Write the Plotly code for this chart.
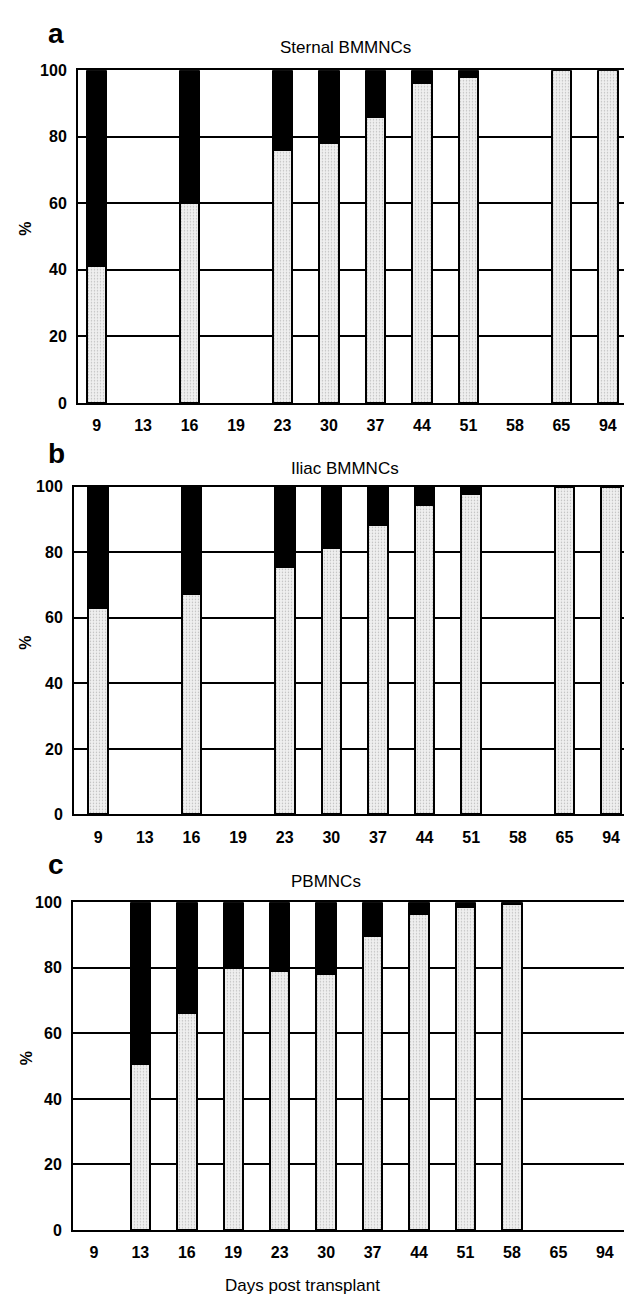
import plotly.graph_objects as go

W, H = 632, 1307

days = ["9", "13", "16", "19", "23", "30", "37", "44", "51", "58", "65", "94"]

# lower (stippled grey) fraction, %
sternal_grey = [41, None, 60, None, 76, 78, 86, 96, 98, None, 100, 100]
iliac_grey = [63, None, 67.5, None, 75.5, 81.5, 88.5, 94.5, 97.8, None, 100, 100]
pb_grey = [None, 50.5, 66, 80, 79, 78, 89.5, 96.3, 98.5, 99.4, None, None]

# upper (black) fraction, %
sternal_black = [59, None, 40, None, 24, 22, 14, 4, 2, None, 0, 0]
iliac_black = [37, None, 32.5, None, 24.5, 18.5, 11.5, 5.5, 2.2, None, 0, 0]
pb_black = [None, 49.5, 34, 20, 21, 22, 10.5, 3.7, 1.5, 0.6, None, None]

panel_titles = ["Sternal BMMNCs", "Iliac BMMNCs", "PBMNCs"]
panel_letters = ["a", "b", "c"]
y_ticks = [0, 20, 40, 60, 80, 100]

# pixel boxes of plot areas: (left, right, top, bottom)
boxes = [(70, 624, 55, 392), (66, 624, 477, 809), (65, 621, 898, 1230)]
x_ranges = [[-0.40, 11.52], [-0.52, 11.45], [-0.45, 11.52]]
title_x = [337, 337, 318]
title_y = [32, 458, 877]
letter_y = [18, 443, 860]

FONT = "Liberation Sans, Arial, Helvetica, sans-serif"

fig = go.Figure()

series = [(sternal_grey, sternal_black), (iliac_grey, iliac_black), (pb_grey, pb_black)]

for i, (grey, black) in enumerate(series):
    xa = "x" if i == 0 else f"x{i+1}"
    ya = "y" if i == 0 else f"y{i+1}"
    fig.add_trace(go.Bar(
        x=days, y=grey, xaxis=xa, yaxis=ya, width=0.42,
        marker=dict(color="#ececec", line=dict(color="black", width=2.5),
                    pattern=dict(shape=".", fgcolor="#8a8a8a", bgcolor="#efefef",
                                 size=3, solidity=0.18)),
        showlegend=False, hoverinfo="x+y",
    ))
    fig.add_trace(go.Bar(
        x=days, y=black, xaxis=xa, yaxis=ya, width=0.42,
        marker=dict(color="black", line=dict(color="black", width=2.5)),
        showlegend=False, hoverinfo="x+y",
    ))

annotations = []
for i, (l, r, t, b) in enumerate(boxes):
    sfx = "" if i == 0 else str(i + 1)
    xd = [l / W, r / W]
    yd = [1 - b / H, 1 - t / H]
    fig.update_layout(**{
        f"xaxis{sfx}": dict(
            domain=xd, anchor=f"y{sfx}", type="category",
            categoryorder="array", categoryarray=days,
            range=x_ranges[i], showline=True, mirror=True,
            linecolor="black", linewidth=2, showgrid=False,
            ticks="outside", ticklen=7, tickcolor="rgba(0,0,0,0)",
            tickfont=dict(family=FONT, size=16, color="black", weight="bold"),
            fixedrange=True,
        ),
        f"yaxis{sfx}": dict(
            domain=yd, anchor=f"x{sfx}", range=[0, 100],
            tickvals=y_ticks, showline=True, mirror=True,
            linecolor="black", linewidth=2, showgrid=True,
            gridcolor="black", gridwidth=1.5, zeroline=False,
            ticks="outside", ticklen=6, tickcolor="rgba(0,0,0,0)",
            tickfont=dict(family=FONT, size=16, color="black", weight="bold"),
            fixedrange=True,
        ),
    })
    annotations.append(dict(
        text=panel_titles[i], x=title_x[i] / W, y=1 - title_y[i] / H,
        xref="paper", yref="paper", showarrow=False,
        font=dict(family=FONT, size=17, color="black"),
        xanchor="center", yanchor="middle",
    ))
    annotations.append(dict(
        text=panel_letters[i], x=38 / W, y=1 - letter_y[i] / H,
        xref="paper", yref="paper", showarrow=False,
        font=dict(family=FONT, size=28, color="black", weight="bold"),
        xanchor="left", yanchor="middle",
    ))
    annotations.append(dict(
        text="%", x=18 / W, y=1 - ((t + b) / 2 - 8) / H,
        xref="paper", yref="paper", showarrow=False, textangle=-90,
        font=dict(family=FONT, size=16, color="black", weight="bold"),
        xanchor="center", yanchor="middle",
    ))

annotations.append(dict(
    text="Days post transplant", x=294 / W, y=1 - 1286 / H,
    xref="paper", yref="paper", showarrow=False,
    font=dict(family=FONT, size=17, color="black"),
    xanchor="center", yanchor="middle",
))

fig.update_layout(
    width=W, height=H, margin=dict(l=0, r=0, t=0, b=0),
    paper_bgcolor="white", plot_bgcolor="white",
    barmode="stack", bargap=0,
    annotations=annotations,
    font=dict(family=FONT, color="black"),
)

fig.write_html("out.html")
